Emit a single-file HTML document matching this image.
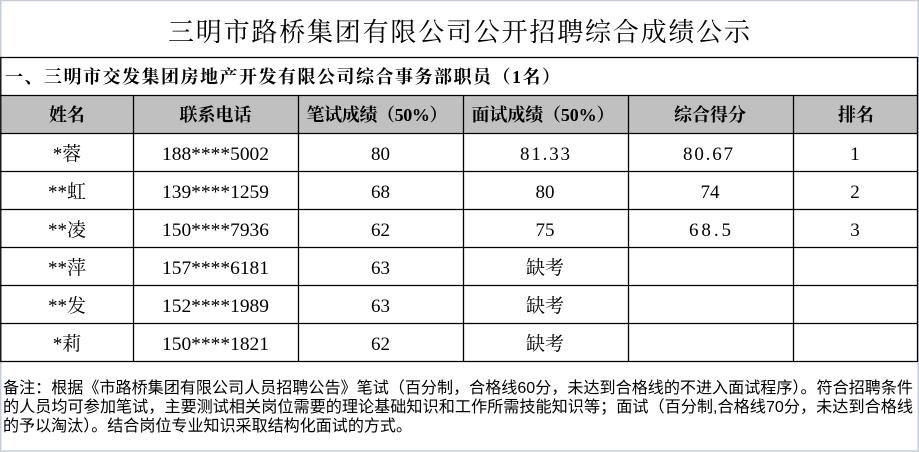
<!DOCTYPE html>
<html><head><meta charset="utf-8"><style>
html,body{margin:0;padding:0;background:#fff;}
svg{display:block;}
.t{font-family:"Liberation Serif","Noto Serif CJK SC",serif;fill:#000;}
.h{font-family:"Liberation Serif","Noto Serif CJK SC",serif;font-weight:bold;font-size:18px;fill:#000;}
.d{font-family:"Liberation Serif","Noto Serif CJK SC",serif;font-size:19px;fill:#000;}
.n{font-family:"Liberation Sans","Noto Sans CJK SC",sans-serif;font-size:16px;fill:#000;}
</style></head><body>
<svg width="919" height="452" viewBox="0 0 919 452" xmlns="http://www.w3.org/2000/svg">
<rect x="0" y="0" width="919" height="452" fill="#fff"/>
<!-- outer light border -->
<rect x="0.75" y="0.5" width="917.5" height="450.5" fill="none" stroke="#c5cdd9" stroke-width="1.5"/>
<!-- header bg -->
<rect x="1" y="95" width="917" height="38" fill="#c0c0c0"/>
<!-- horizontal lines -->
<g stroke="#000" stroke-width="1.3">
<line x1="0" y1="57.5" x2="918" y2="57.5"/>
<line x1="0" y1="95.5" x2="918" y2="95.5"/>
<line x1="0" y1="133.5" x2="918" y2="133.5"/>
<line x1="0" y1="171.5" x2="918" y2="171.5"/>
<line x1="0" y1="209.5" x2="918" y2="209.5"/>
<line x1="0" y1="247.5" x2="918" y2="247.5"/>
<line x1="0" y1="285.5" x2="918" y2="285.5"/>
<line x1="0" y1="323.5" x2="918" y2="323.5"/>
<line x1="0" y1="361.5" x2="918" y2="361.5"/>
<line x1="0.8" y1="57" x2="0.8" y2="362"/>
<line x1="917.5" y1="57" x2="917.5" y2="362"/>
<line x1="133.5" y1="95" x2="133.5" y2="362"/>
<line x1="298.5" y1="95" x2="298.5" y2="362"/>
<line x1="463.5" y1="95" x2="463.5" y2="362"/>
<line x1="628.5" y1="95" x2="628.5" y2="362"/>
<line x1="793.5" y1="95" x2="793.5" y2="362"/>
</g>
<!-- title -->
<text class="t" x="168" y="41" font-size="26" textLength="582" lengthAdjust="spacing">三明市路桥集团有限公司公开招聘综合成绩公示</text>
<!-- subtitle -->
<text class="h" x="5" y="83" textLength="555" lengthAdjust="spacing">一、三明市交发集团房地产开发有限公司综合事务部职员（1名）</text>
<!-- header -->
<g class="h" text-anchor="middle">
<text x="67" y="121">姓名</text>
<text x="215.5" y="121">联系电话</text>
<text x="377" y="121" textLength="141" lengthAdjust="spacing">笔试成绩（50%）</text>
<text x="543" y="121" textLength="143" lengthAdjust="spacing">面试成绩（50%）</text>
<text x="710" y="121">综合得分</text>
<text x="856" y="121">排名</text>
</g>
<!-- data -->
<g class="d" text-anchor="middle">
<text x="67" y="160">*蓉</text>
<text x="215.5" y="160" textLength="107" lengthAdjust="spacingAndGlyphs">188****5002</text>
<text x="380.5" y="160">80</text>
<text x="545" y="160" textLength="50" lengthAdjust="spacing">81.33</text>
<text x="708" y="160" textLength="50" lengthAdjust="spacing">80.67</text>
<text x="855" y="160">1</text>

<text x="67" y="198">**虹</text>
<text x="215.5" y="198" textLength="107" lengthAdjust="spacingAndGlyphs">139****1259</text>
<text x="380.5" y="198">68</text>
<text x="545" y="198">80</text>
<text x="710" y="198">74</text>
<text x="855" y="198">2</text>

<text x="67" y="236">**凌</text>
<text x="215.5" y="236" textLength="107" lengthAdjust="spacingAndGlyphs">150****7936</text>
<text x="380.5" y="236">62</text>
<text x="545" y="236">75</text>
<text x="710" y="236" textLength="42" lengthAdjust="spacing">68.5</text>
<text x="855" y="236">3</text>

<text x="67" y="274">**萍</text>
<text x="215.5" y="274" textLength="107" lengthAdjust="spacingAndGlyphs">157****6181</text>
<text x="380.5" y="274">63</text>
<text x="545" y="274">缺考</text>

<text x="67" y="312">**发</text>
<text x="215.5" y="312" textLength="107" lengthAdjust="spacingAndGlyphs">152****1989</text>
<text x="380.5" y="312">63</text>
<text x="545" y="312">缺考</text>

<text x="67" y="350">*莉</text>
<text x="215.5" y="350" textLength="107" lengthAdjust="spacingAndGlyphs">150****1821</text>
<text x="380.5" y="350">62</text>
<text x="545" y="350">缺考</text>
</g>
<!-- notes -->
<text class="n" x="3" y="393" textLength="910" lengthAdjust="spacingAndGlyphs">备注：根据《市路桥集团有限公司人员招聘公告》笔试（百分制，合格线60分，未达到合格线的不进入面试程序）。符合招聘条件</text>
<text class="n" x="3" y="412" textLength="910" lengthAdjust="spacingAndGlyphs">的人员均可参加笔试，主要测试相关岗位需要的理论基础知识和工作所需技能知识等；面试（百分制,合格线70分，未达到合格线</text>
<text class="n" x="3" y="431" textLength="409" lengthAdjust="spacingAndGlyphs">的予以淘汰）。结合岗位专业知识采取结构化面试的方式。</text>
</svg>
</body></html>
